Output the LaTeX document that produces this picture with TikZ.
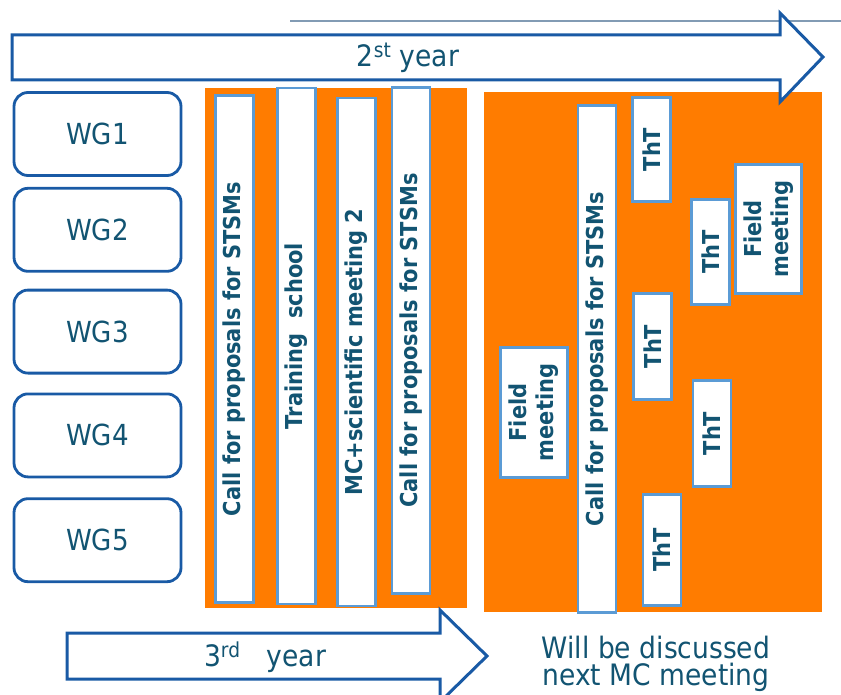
\documentclass[tikz,border=0pt]{standalone}
\usepackage{fontspec}
\setmainfont{DejaVu Sans}[FakeStretch=0.9]
\usetikzlibrary{positioning}
\newcommand{\createlength}[2]{\newlength{#1}\setlength{#1}{#2}}
\definecolor{actorange}{RGB}{255,124,0}
\definecolor{barblue}{RGB}{91,155,213}
\definecolor{wgblue}{RGB}{25,90,165}
\definecolor{txtblue}{RGB}{18,84,114}
\definecolor{lineblue}{RGB}{130,155,180}

\begin{document}
\begin{tikzpicture}[x=1pt,y=-1pt,
    wgbox/.style={draw=wgblue, line width=2.8pt, rounded corners=14pt, minimum width=167pt, minimum height=83pt, inner sep=0, text=txtblue, font=\fontsize{29}{32}\selectfont},
    actbar/.style={draw=barblue, line width=2.6pt, fill=white, rotate=90, inner sep=0, text=txtblue, align=center, font=\bfseries\fontsize{23.3}{27}\selectfont},
    yeararrow/.style={draw=wgblue, line width=3pt, fill=white, line join=miter},
    yeartext/.style={text=txtblue, align=center, font=\fontsize{29.5}{27}\selectfont}]
\createlength{\wgsep}{10pt}
\useasboundingbox (0,0) rectangle (841,695);
%%%%%%%%%%%%%%%%%%%%%%%%%%%%
%%%%%%%%% 2nd year %%%%%%%%%
%%%%%%%%%%%%%%%%%%%%%%%%%%%%
\draw[lineblue, line width=1.5pt] (290,21) -- (841,21);
\fill[actorange] (205,88) rectangle (467,608);
\fill[actorange] (484,92) rectangle (822,612);
\draw[yeararrow] (12,35) -- (780,35) -- (780,13) -- (823,57) -- (780,102) -- (780,80) -- (12,80) -- cycle;
\node[yeartext] (year2) at (408,58) {2\textsuperscript{st} year};
%%%%%%%%%%%%%%%%%%%%%%%%%%%%
%%%%%%%%% WGs %%%%%%%%%%%%%%
%%%%%%%%%%%%%%%%%%%%%%%%%%%%
\node[wgbox] (wg1) at (97.5,134) {WG1};
\node[wgbox, below=\wgsep of wg1] (wg2) {WG2};
\node[wgbox, below=16pt of wg2] (wg3) {WG3};
\node[wgbox, below=18pt of wg3] (wg4) {WG4};
\node[wgbox, below=19pt of wg4] (wg5) {WG5};
%%%%%%%%%%%%%%%%%%%%%%%%%%%%
%%%%%%%%% left block %%%%%%%
%%%%%%%%%%%%%%%%%%%%%%%%%%%%
\node[actbar, minimum width=507pt, minimum height=38pt] (p1call) at (234.5,349) {Call for proposals for STSMs};
\node[actbar, minimum width=516pt, minimum height=38pt] (p1school) at (296.5,346) {\hspace*{20pt}Training\ \ school};
\node[actbar, minimum width=508pt, minimum height=38pt] (p1meet) at (356.5,352) {MC+scientific meeting 2};
\node[actbar, minimum width=506pt, minimum height=38pt] (p1call2) at (411,340.5) {Call for proposals for STSMs};
%%%%%%%%%%%%%%%%%%%%%%%%%%%%
%%%%%%%%% right block %%%%%%
%%%%%%%%%%%%%%%%%%%%%%%%%%%%
\node[actbar, minimum width=507pt, minimum height=38pt] (p2call) at (597,359) {Call for proposals for STSMs};
\node[actbar, minimum width=104pt, minimum height=38pt] (p2tht1) at (651.5,149.5) {ThT};
\node[actbar, minimum width=105pt, minimum height=38pt] (p2tht2) at (710.5,252) {ThT};
\node[actbar, minimum width=129pt, minimum height=66pt] (p2field1) at (768.5,229) {Field\\meeting};
\node[actbar, minimum width=106pt, minimum height=38pt] (p2tht3) at (652.5,346.5) {ThT};
\node[actbar, minimum width=106pt, minimum height=38pt] (p2tht4) at (712,433.5) {ThT};
\node[actbar, minimum width=130pt, minimum height=67pt] (p2field2) at (534,412.5) {Field\\meeting};
\node[actbar, minimum width=111pt, minimum height=38pt] (p2tht5) at (662,550) {ThT};
%%%%%%%%%%%%%%%%%%%%%%%%%%%%
%%%%%%%%% 3rd year %%%%%%%%%
%%%%%%%%%%%%%%%%%%%%%%%%%%%%
\draw[yeararrow] (67,633) -- (440,633) -- (440,610) -- (487,656) -- (440,702) -- (440,679) -- (67,679) -- cycle;
\node[yeartext] (year3) at (265,657) {3\textsuperscript{rd}\hspace{0.6em} year};
\node[yeartext] (nextmc) at (656,664) {Will be discussed\\next MC meeting};
\end{tikzpicture}
\end{document}
